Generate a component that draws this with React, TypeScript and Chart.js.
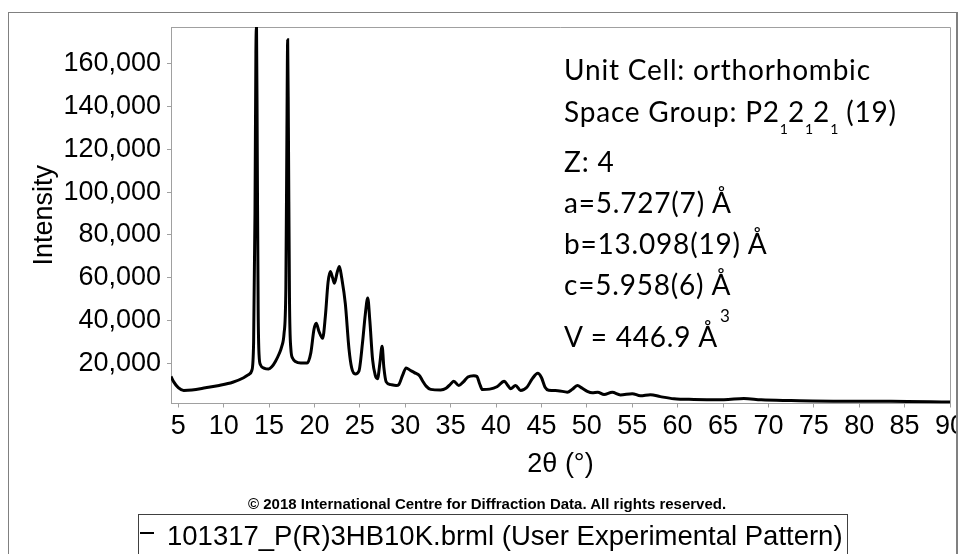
import React, { useEffect, useRef } from 'react';
import { Chart, registerables } from 'chart.js';

Chart.register(...registerables);

// ---- data ----
const twoTheta = [
  4.2, 4.5, 5.0, 5.6, 6.5, 8.0, 9.5, 11.0, 12.2, 12.8, 13.1, 13.3, 13.45, 13.55, 13.62, 13.7, 13.8, 13.9, 14.05,
  14.5, 14.95, 15.3, 15.7, 16.1, 16.4, 16.65, 16.85, 16.97, 17.05, 17.13, 17.25, 17.4, 17.6, 17.9, 18.5, 19.2,
  19.6, 19.95, 20.2, 20.5, 20.9, 21.2, 21.5, 21.75, 22.0, 22.2, 22.5, 22.75, 23.0, 23.4, 23.8, 24.1, 24.5, 24.9,
  25.3, 25.6, 25.87, 26.1, 26.4, 26.7, 26.95, 27.2, 27.45, 27.65, 27.9, 28.4, 29.0, 29.3, 29.7, 30.1, 30.5, 31.0,
  31.6, 31.9, 32.3, 32.8, 33.9, 34.5, 35.0, 35.35, 35.9, 36.4, 36.9, 37.55, 37.9, 38.2, 38.5, 39.3, 40.1, 40.9,
  41.3, 41.6, 42.15, 42.7, 43.4, 44.0, 44.6, 45.0, 45.4, 45.8, 46.8, 47.85, 48.4, 48.95, 49.5, 50.05, 50.6, 51.2,
  51.9, 52.8, 53.7, 55.0, 55.9, 57.0, 58.1, 59.6, 61.8, 65.1, 67.3, 69.2, 72.5, 78.0, 83.5, 90.0,
];
const intensity = [
  14000, 11500, 8800, 7500, 7700, 8700, 9800, 11300, 13400, 15000, 16800, 30000, 90000, 165000, 177000, 120000, 45000, 24000, 19500,
  17800, 17500, 18500, 21000, 24500, 28000, 34000, 55000, 130000, 171000, 130000, 50000, 27000, 22500, 21000, 20300, 20300,
  25000, 36000, 38800, 35000, 31800, 42000, 58000, 63000, 60000, 57500, 62500, 65300, 60000, 48000, 27000, 18000, 15200, 16500,
  30000, 43000, 50600, 40000, 22000, 14500, 13000, 20000, 28100, 18000, 11500, 10200, 9800, 10300, 14500, 18000, 17000, 15800,
  14200, 12000, 9500, 8000, 7700, 8500, 10500, 11800, 9800, 11500, 13800, 14400, 14000, 10500, 7900, 8100, 9200, 11800,
  9800, 8300, 9800, 7500, 9000, 13000, 15500, 13500, 9000, 7600, 7400, 6700, 8000, 9800, 8500, 7100, 6400, 6700,
  5600, 6600, 5400, 6000, 5000, 5500, 4600, 3600, 3300, 3200, 3700, 3100, 2800, 2500, 2500, 2100,
];
const xTickValues = [5, 10, 15, 20, 25, 30, 35, 40, 45, 50, 55, 60, 65, 70, 75, 80, 85, 90];
const yTickValues = [20000, 40000, 60000, 80000, 100000, 120000, 140000, 160000];
const xRange = [4.2, 90];
const yRange = [1400, 177000];

const seriesLabel = '101317_P(R)3HB10K.brml (User Experimental Pattern)';
const xTitle = '2\u03B8 (\u00B0)';
const yTitle = 'Intensity';
const copyright = '\u00A9 2018 International Centre for Diffraction Data. All rights reserved.';

const AXIS_GRAY = '#a0a0a0';
const SANS = '"Liberation Sans", Arial, sans-serif';

const plotBox = {
  id: 'plotBox',
  beforeDatasetsDraw(chart: any) {
    const { ctx, chartArea } = chart;
    const { left, top, right, bottom } = chartArea;
    ctx.save();
    ctx.strokeStyle = AXIS_GRAY;
    ctx.lineWidth = 1;
    ctx.beginPath();
    ctx.moveTo(left, Math.round(top) + 0.5);
    ctx.lineTo(Math.round(right) + 0.5, Math.round(top) + 0.5);
    ctx.lineTo(Math.round(right) + 0.5, bottom);
    ctx.stroke();
    ctx.restore();
  },
};

export default function App() {
  const canvasRef = useRef<HTMLCanvasElement | null>(null);

  useEffect(() => {
    if (!canvasRef.current) return;
    const points = twoTheta.map((x, i) => ({ x, y: intensity[i] }));
    const chart = new Chart(canvasRef.current, {
      type: 'line',
      data: {
        datasets: [
          {
            label: seriesLabel,
            data: points,
            borderColor: '#000000',
            borderWidth: 3,
            pointRadius: 0,
            fill: false,
            cubicInterpolationMode: 'monotone',
          },
        ],
      },
      options: {
        animation: false,
        responsive: false,
        layout: { padding: { left: 0, right: 8, top: 27, bottom: 71.8 } },
        plugins: {
          legend: { display: false },
          tooltip: { enabled: false },
        },
        scales: {
          x: {
            type: 'linear',
            min: xRange[0],
            max: xRange[1],
            afterBuildTicks: (scale: any) => {
              scale.ticks = xTickValues.map((v) => ({ value: v }));
            },
            afterFit: (scale: any) => {
              scale.height = 78.7;
              scale.paddingLeft = 0;
              scale.paddingRight = 0;
            },
            ticks: {
              autoSkip: false,
              maxRotation: 0,
              padding: 3,
              color: '#000',
              font: { family: SANS, size: 27 },
              callback: (v: any) => String(v),
            },
            grid: {
              drawOnChartArea: false,
              drawTicks: true,
              tickLength: 4,
              color: AXIS_GRAY,
            },
            border: { display: true, color: AXIS_GRAY, width: 1 },
            title: {
              display: true,
              text: xTitle,
              color: '#000',
              font: { family: SANS, size: 27 },
              padding: { top: 0, bottom: 1 },
            },
          },
          y: {
            type: 'linear',
            min: yRange[0],
            max: yRange[1],
            afterBuildTicks: (scale: any) => {
              scale.ticks = yTickValues.map((v) => ({ value: v }));
            },
            afterFit: (scale: any) => {
              scale.width = 171;
              scale.paddingTop = 0;
              scale.paddingBottom = 0;
            },
            ticks: {
              padding: 6,
              color: '#000',
              font: { family: SANS, size: 27 },
              callback: (v: any) => Number(v).toLocaleString('en-US'),
            },
            grid: {
              drawOnChartArea: false,
              drawTicks: true,
              tickLength: 4,
              color: AXIS_GRAY,
            },
            border: { display: true, color: AXIS_GRAY, width: 1 },
            title: {
              display: true,
              text: yTitle,
              color: '#000',
              font: { family: SANS, size: 27 },
              padding: { top: 28, bottom: 0 },
            },
          },
        },
      },
      plugins: [plotBox],
    } as any);
    return () => chart.destroy();
  }, []);

  const noteFont = 'Lato, "Open Sans", sans-serif';
  const noteLine = (top: number): React.CSSProperties => ({
    position: 'absolute',
    left: 564,
    top,
    fontFamily: noteFont,
    fontSize: 28,
    letterSpacing: '0.8px',
    lineHeight: '33.6px',
    color: '#000',
    whiteSpace: 'nowrap',
  });
  const sub: React.CSSProperties = { position: 'relative', top: 12, fontSize: 14, letterSpacing: 0 };

  return (
    <div
      style={{
        position: 'fixed',
        left: 0,
        top: 0,
        width: 972,
        height: 554,
        overflow: 'hidden',
        background: '#fff',
      }}
    >
      <canvas
        ref={canvasRef}
        width={958}
        height={554}
        style={{ position: 'absolute', left: 0, top: 0, width: 958, height: 554 }}
      />
      {/* outer frame */}
      <div
        style={{
          position: 'absolute',
          left: 8,
          top: 12,
          width: 947,
          height: 600,
          borderLeft: '1px solid #808080',
          borderTop: '1px solid #808080',
          borderRight: '2px solid #808080',
          pointerEvents: 'none',
        }}
      />
      {/* cell annotation */}
      <div style={noteLine(53.4)}>Unit Cell: orthorhombic</div>
      <div style={noteLine(95.1)}>
        Space Group: P2<span style={sub}>1</span>2<span style={sub}>1</span>2<span style={sub}>1</span> (19)
      </div>
      <div style={noteLine(145.1)}>Z: 4</div>
      <div style={noteLine(186.1)}>a=5.727(7) Å</div>
      <div style={noteLine(227.4)}>b=13.098(19) Å</div>
      <div style={noteLine(268.4)}>c=5.958(6) Å</div>
      <div style={noteLine(320.1)}>
        V = 446.9 Å<span style={{ position: 'relative', top: -25, fontSize: 17, marginLeft: 2, letterSpacing: 0 }}>3</span>
      </div>
      {/* copyright */}
      <div
        style={{
          position: 'absolute',
          left: 248,
          top: 495.6,
          fontFamily: SANS,
          fontWeight: 'bold',
          fontSize: 15,
          lineHeight: '15px',
          color: '#000',
          whiteSpace: 'nowrap',
        }}
      >
        {copyright}
      </div>
      {/* legend */}
      <div
        style={{
          position: 'absolute',
          left: 138,
          top: 514,
          width: 708,
          height: 60,
          border: '1px solid #404040',
        }}
      >
        <div style={{ position: 'absolute', left: 1, top: 17, width: 14, height: 2, background: '#000' }} />
        <div
          style={{
            position: 'absolute',
            left: 28,
            top: 7,
            fontFamily: SANS,
            fontSize: 27.5,
            lineHeight: '27px',
            color: '#000',
            whiteSpace: 'nowrap',
          }}
        >
          {seriesLabel}
        </div>
      </div>
    </div>
  );
}
